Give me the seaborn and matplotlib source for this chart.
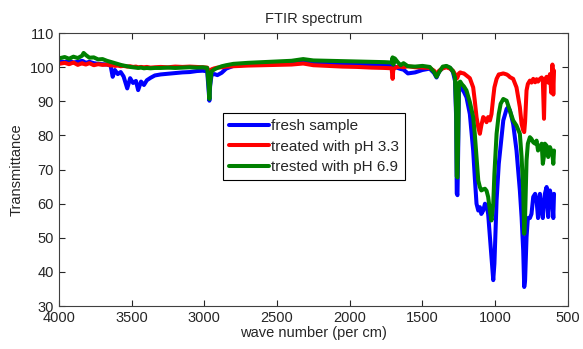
import numpy as np
import pandas as pd
import matplotlib
matplotlib.use("Agg")
import matplotlib.pyplot as plt
import seaborn as sns

# wave numbers (per cm)
wavenumber = [4000, 3960, 3930, 3900, 3870, 3840, 3830, 3815, 3790, 3760,
              3730, 3700, 3670, 3645, 3630, 3615, 3595, 3575, 3555, 3530,
              3510, 3490, 3470, 3455, 3435, 3415, 3395, 3370, 3340, 3300,
              3250, 3200, 3150, 3100, 3050, 3010, 2980, 2970, 2965, 2960,
              2950, 2930, 2910, 2880, 2850, 2800, 2700, 2600, 2500, 2400,
              2320, 2250, 2150, 2050, 1950, 1850, 1760, 1712, 1705, 1700,
              1690, 1670, 1650, 1630, 1600, 1550, 1500, 1450, 1420, 1403,
              1385, 1360, 1335, 1310, 1290, 1276, 1268, 1264, 1259, 1254,
              1249, 1240, 1228, 1215, 1197, 1174, 1151, 1140, 1128, 1116,
              1105, 1095, 1082, 1070, 1059, 1048, 1036, 1025, 1013, 1005,
              990, 975, 962, 944, 921, 910, 898, 876, 853, 830,
              818, 807, 800, 794, 784, 775, 761, 750, 738, 725,
              715, 705, 692, 680, 672, 664, 658, 646, 635, 623,
              614, 606, 600, 595]

fresh = [101.8, 101.5, 101.9, 101.4, 101.6, 101.9, 101.7, 101.3, 101.6, 101.2,
         101.0, 100.9, 100.8, 100.6, 97.2, 99.2, 98.0, 98.6, 97.3, 93.8,
         96.8, 95.4, 96.0, 93.3, 95.8, 94.8, 96.2, 96.9, 97.6, 97.9,
         98.1, 98.3, 98.5, 98.6, 98.9, 99.0, 98.8, 93.0, 90.2, 94.5,
         97.8, 98.0, 97.7, 98.4, 99.6, 100.4, 100.8, 100.9, 101.1, 101.3,
         101.6, 101.3, 101.1, 101.0, 100.9, 100.8, 100.7, 100.6, 100.5, 100.4,
         100.2, 99.8, 99.5, 99.3, 98.2, 98.5, 99.2, 99.6, 98.3, 97.0,
         98.8, 99.8, 100.2, 99.8, 98.6, 96.0, 85.0, 63.0, 62.5, 76.0,
         94.0, 94.8, 93.6, 92.8, 91.2, 86.3, 75.6, 67.8, 60.0, 58.0,
         59.0, 57.0, 58.0, 60.0, 59.5, 57.0, 50.2, 44.4, 37.6, 42.4,
         61.0, 71.7, 77.0, 84.4, 87.8, 88.3, 87.3, 83.4, 75.6, 63.9,
         56.0, 46.3, 35.6, 37.6, 50.2, 55.8, 55.8, 57.0, 62.0, 62.9,
         61.0, 55.8, 62.9, 58.0, 55.8, 60.0, 62.9, 64.9, 56.1, 63.9,
         62.0, 60.5, 55.8, 62.9]

ph33 = [101.0, 101.3, 100.9, 101.4, 100.7, 101.2, 101.0, 100.8, 101.2, 100.6,
        100.9, 100.7, 100.8, 100.5, 100.6, 100.4, 100.5, 100.3, 100.4, 100.2,
        100.3, 100.1, 100.2, 100.0, 100.1, 100.0, 100.1, 99.9, 100.0, 100.1,
        100.0, 100.2, 100.1, 100.2, 100.1, 100.0, 99.9, 98.5, 97.5, 98.8,
        99.4, 99.7, 99.9, 100.0, 100.2, 100.3, 100.5, 100.6, 100.7, 100.8,
        101.1, 100.6, 100.4, 100.2, 100.1, 99.9, 99.8, 99.7, 96.6, 99.4,
        99.8, 100.1, 100.2, 100.0, 100.3, 100.0, 99.9, 99.8, 99.0, 98.0,
        99.0, 99.7, 100.0, 99.6, 99.0, 98.0, 97.2, 96.7, 97.0, 97.6,
        98.2, 98.5, 98.3, 98.2, 97.6, 96.8, 94.1, 90.2, 85.4, 82.4,
        80.5, 82.9, 85.4, 84.9, 83.9, 85.4, 84.4, 86.3, 91.2, 94.1,
        96.6, 97.9, 98.0, 98.2, 97.9, 97.6, 97.1, 96.6, 94.1, 88.3,
        83.4, 81.5, 81.0, 84.0, 93.2, 95.1, 96.1, 95.5, 96.6, 95.6,
        96.5, 95.8, 96.6, 97.0, 96.0, 84.9, 96.4, 97.2, 95.5, 98.0,
        92.5, 100.8, 92.0, 99.0]

ph69 = [102.6, 103.0, 102.5, 103.1, 102.7, 103.4, 104.2, 103.6, 102.8, 102.9,
        102.3, 102.4, 101.9, 101.6, 101.4, 101.2, 100.9, 100.7, 100.5, 100.3,
        100.1, 100.0, 99.9, 99.8, 99.9, 99.7, 99.8, 99.7, 99.8, 99.8,
        99.9, 99.8, 99.9, 100.0, 99.9, 100.0, 99.8, 94.5, 90.7, 95.0,
        98.8, 99.4, 99.8, 100.3, 100.6, 101.0, 101.3, 101.5, 101.7, 101.9,
        102.4, 102.0, 101.9, 101.8, 101.7, 101.6, 101.5, 101.4, 102.9, 100.8,
        102.6, 101.5, 100.6, 101.2, 100.3, 100.2, 100.4, 100.1, 98.6, 97.2,
        98.6, 100.2, 100.4, 99.9, 98.8, 97.0, 87.0, 68.0, 67.7, 80.0,
        95.5, 95.8, 95.0, 94.4, 93.2, 89.8, 85.4, 80.5, 73.7, 66.8,
        64.9, 63.9, 64.2, 64.4, 63.8, 62.0, 58.0, 55.1, 60.0, 68.8,
        80.5, 86.3, 89.3, 90.7, 90.2, 88.8, 87.3, 84.4, 82.9, 80.5,
        73.7, 63.9, 51.2, 56.1, 72.7, 77.6, 79.5, 79.0, 78.0, 77.6,
        78.5, 75.6, 76.6, 77.6, 71.7, 74.0, 77.6, 77.0, 73.7, 76.6,
        75.6, 74.5, 71.7, 75.6]

labels = ["fresh sample", "treated with pH 3.3", "trested with pH 6.9"]
colors = ["#0000ff", "#ff0000", "#008000"]

df = pd.concat([
    pd.DataFrame({"wn": wavenumber, "T": fresh, "sample": labels[0]}),
    pd.DataFrame({"wn": wavenumber, "T": ph33, "sample": labels[1]}),
    pd.DataFrame({"wn": wavenumber, "T": ph69, "sample": labels[2]}),
])

sns.set_style("ticks")
plt.rcParams['font.family'] = ['Liberation Sans', 'DejaVu Sans']
plt.rcParams['font.size'] = 10.5

fig = plt.figure(figsize=(5.83, 3.49), dpi=100)
ax = fig.add_axes([0.101, 0.123, 0.873, 0.782])

sns.lineplot(data=df, x="wn", y="T", hue="sample", hue_order=labels,
             palette=dict(zip(labels, colors)), estimator=None, sort=False,
             linewidth=2.9, ax=ax, legend=False)

ax.set_xlim(4000, 500)
ax.set_ylim(30, 110)
ax.set_xticks(np.arange(4000, 499, -500))
ax.set_yticks(np.arange(30, 111, 10))
ax.tick_params(direction="in", top=True, right=True, length=4,
               labelsize=10.5, colors="0.15", width=0.8)
for sp in ax.spines.values():
    sp.set_color("0.25")
    sp.set_linewidth(0.8)

ax.set_title("FTIR spectrum", fontsize=10.5, pad=7)
ax.set_xlabel("wave number (per cm)", fontsize=10.5, labelpad=1)
ax.set_ylabel("Transmittance", fontsize=10.5, labelpad=4)

handles = [plt.Line2D([], [], color=c, lw=2.9) for c in colors]
leg = ax.legend(handles, labels, loc="upper left",
                bbox_to_anchor=(223 / 583, 1 - 113 / 349),
                bbox_transform=fig.transFigure, borderaxespad=0,
                fancybox=False, framealpha=1, edgecolor="black",
                handlelength=2.6, handletextpad=0.15, labelspacing=0.42,
                borderpad=0.4, fontsize=11)
leg.get_frame().set_linewidth(0.8)

fig.savefig("out.png", dpi=100)
